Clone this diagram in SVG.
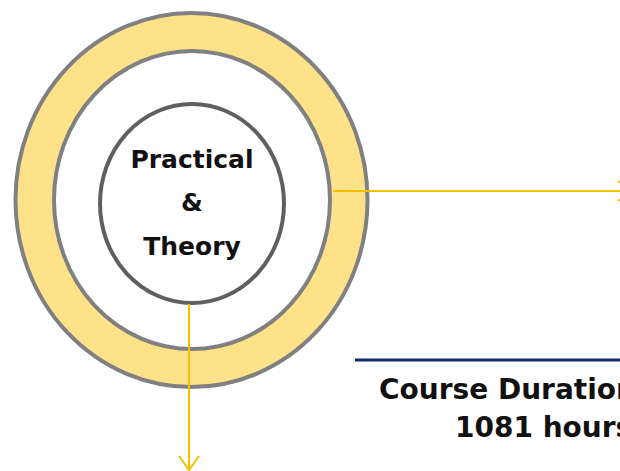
<svg xmlns="http://www.w3.org/2000/svg" width="620" height="471" viewBox="0 0 620 471">
<style>
.ring{stroke:#808080;stroke-width:4}
.core{fill:#ffffff;stroke:#5f5f5f;stroke-width:4}
.lbl{font-family:"DejaVu Sans",sans-serif;font-weight:bold;fill:#111111}
.conn{stroke:#f5c000;stroke-width:2;fill:none}
</style>
<defs>
<marker id="chev" viewBox="0 0 16 22" refX="15" refY="11" markerWidth="16" markerHeight="22" markerUnits="userSpaceOnUse" orient="auto">
<path d="M1,1 L15,11 L1,21" fill="none" stroke="#f5c000" stroke-width="2"/>
</marker>
</defs>
<rect width="620" height="471" fill="#ffffff"/>
<g id="outer-ring">
<ellipse class="ring" cx="191.5" cy="200" rx="176" ry="187" fill="#fee28a"/>
</g>
<g id="middle-ring">
<ellipse class="ring" cx="192" cy="200" rx="138" ry="149" fill="#ffffff"/>
</g>
<g id="core">
<ellipse class="core" cx="192" cy="203.5" rx="92" ry="99.5"/>
<text class="lbl" x="192" y="168" font-size="25" text-anchor="middle">Practical</text>
<text class="lbl" x="192" y="211" font-size="25" text-anchor="middle">&amp;</text>
<text class="lbl" x="192" y="255" font-size="25" text-anchor="middle">Theory</text>
</g>
<g id="connectors">
<line class="conn" x1="333" y1="191" x2="632" y2="191" marker-end="url(#chev)"/>
<line class="conn" x1="189" y1="304" x2="189" y2="470" marker-end="url(#chev)"/>
</g>
<g id="duration">
<line x1="355" y1="360" x2="620" y2="360" stroke="#0f2b66" stroke-width="3"/>
<text class="lbl" x="379" y="399" font-size="28">Course Duration</text>
<text class="lbl" x="455" y="437" font-size="28">1081 hours</text>
</g>
</svg>
